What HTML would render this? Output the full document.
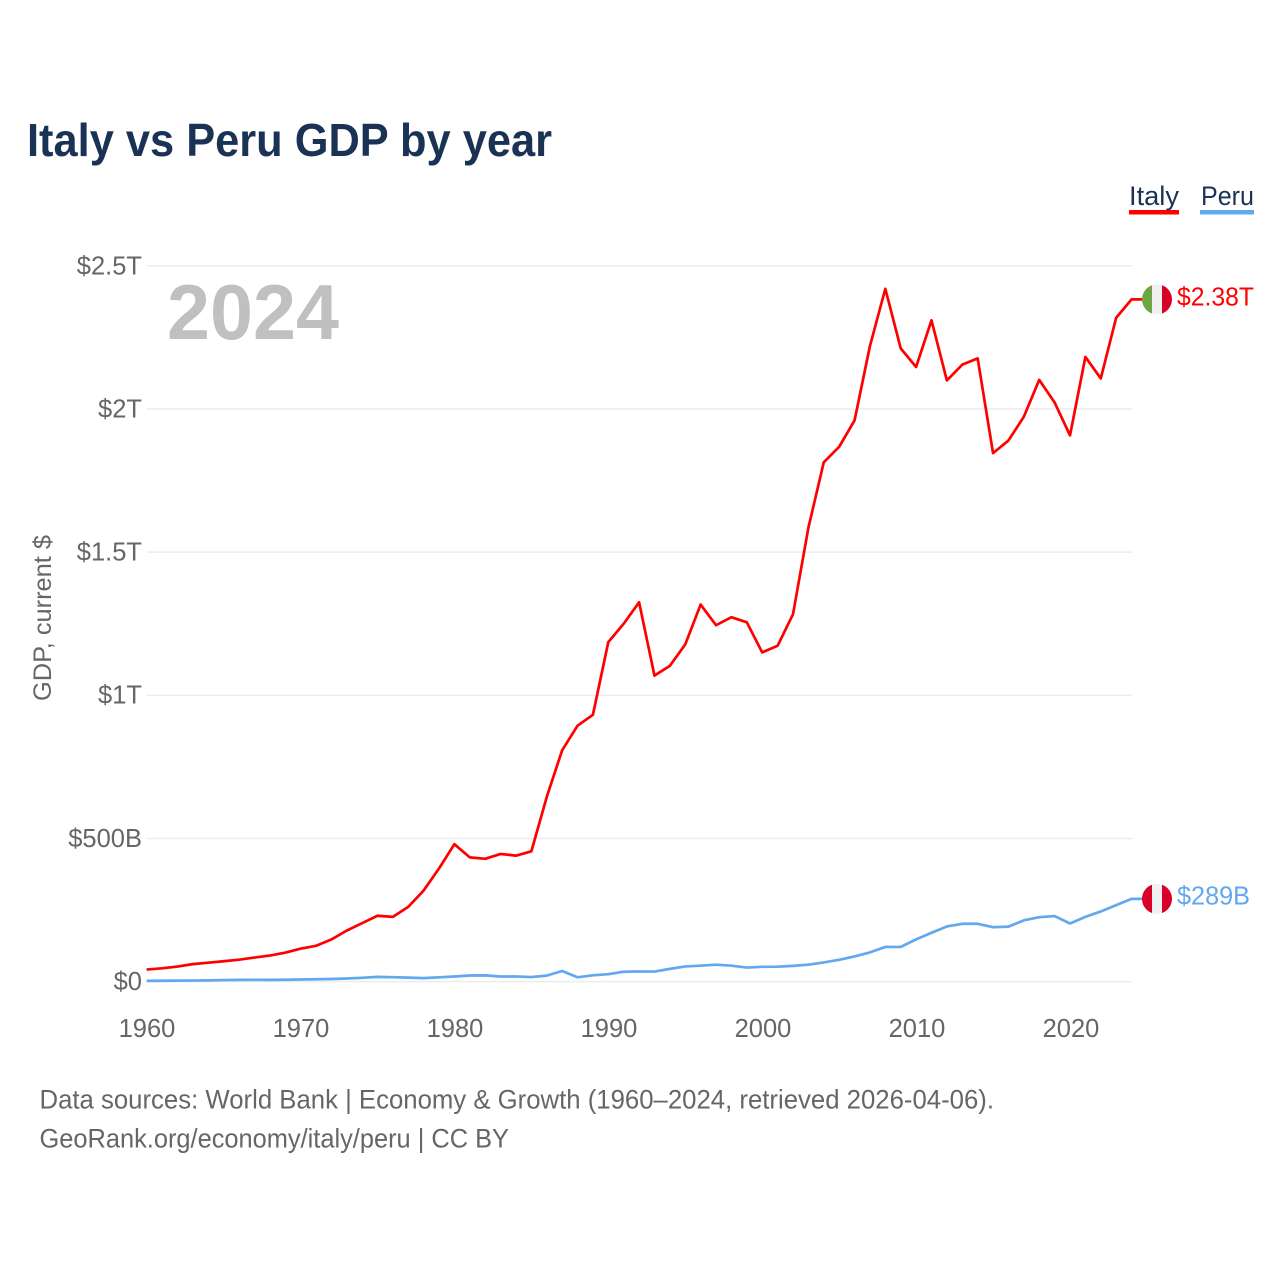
<!DOCTYPE html>
<html lang="en">
<head>
<meta charset="utf-8">
<title>Italy vs Peru GDP by year</title>
<style>
html,body{margin:0;padding:0;background:#fff;}
svg{display:block;font-family:"Liberation Sans",sans-serif;}
</style>
</head>
<body>
<svg id="chart" width="1280" height="1280" viewBox="0 0 1280 1280" xmlns="http://www.w3.org/2000/svg">
  <rect width="1280" height="1280" fill="#ffffff"/>
  <text x="27" y="156" font-size="46" font-weight="700" fill="#1a3355" textLength="525" lengthAdjust="spacingAndGlyphs">Italy vs Peru GDP by year</text>

  <g>
    <g>
      <text x="1129" y="205" font-size="27" fill="#1a3355" textLength="50" lengthAdjust="spacingAndGlyphs">Italy</text>
      <rect x="1129" y="210" width="50" height="4.5" fill="#ff0000"/>
    </g>
    <g>
      <text x="1201" y="205" font-size="27" fill="#1a3355" textLength="53" lengthAdjust="spacingAndGlyphs">Peru</text>
      <rect x="1200" y="210" width="54" height="4.5" fill="#62a8ee"/>
    </g>
  </g>

  <g id="grid"></g>
  <g id="yticks"></g>
  <g id="xticks"></g>

  <text x="167" y="339" font-size="78" font-weight="700" fill="#c0c0c0" textLength="172" lengthAdjust="spacingAndGlyphs">2024</text>
  <text transform="translate(51,701) rotate(-90)" x="0" y="0" font-size="25" fill="#666666" textLength="166" lengthAdjust="spacingAndGlyphs">GDP, current $</text>

  <g id="series"></g>
  <g id="ends"></g>

  <text x="39.5" y="1108.5" font-size="27" fill="#666666" textLength="954.5" lengthAdjust="spacingAndGlyphs">Data sources: World Bank | Economy &amp; Growth (1960–2024, retrieved 2026-04-06).</text>
  <text x="39.5" y="1147.5" font-size="27" fill="#666666" textLength="469.5" lengthAdjust="spacingAndGlyphs">GeoRank.org/economy/italy/peru | CC BY</text>
</svg>
<script>
const startYear = 1960;
const italyValues = [42,46.5,52.5,61,66,71,76.5,84,91,101,115,125,147,178,204,230,226,261,318,395,480,434,429,446,440,455,645,808,894,932,1186,1250,1325,1069,1103,1178,1317,1245,1273,1255,1150,1173,1283,1585,1814,1868,1960,2220,2420,2212,2147,2310,2100,2155,2177,1846,1890,1973,2102,2023,1908,2182,2107,2319,2383];
const peruValues = [2.6,3,3.4,3.7,4.4,5.3,6.1,6.3,5.9,6.5,7.4,8.1,9.2,10.8,13.3,16.4,15.4,14,12,15,17.8,21.3,21.7,17.9,17.7,15.9,20.9,37,15,22,26,34.5,35.5,35,44.5,53,55.5,59,55.5,49,51.7,52,55,59,67,76,88,102,121,121,147.5,170.6,192.6,202,202,190,192,214,225,229,203,226,245,267,289];
const yTickValues = [0,500,1000,1500,2000,2500];
const yTickLabels = ["$0","$500B","$1T","$1.5T","$2T","$2.5T"];
const xTickValues = [1960,1970,1980,1990,2000,2010,2020];
const italyEndLabel = "$2.38T";
const peruEndLabel = "$289B";

const NS = "http://www.w3.org/2000/svg";
const xScale = year => 146.6 + (year - 1960) * 15.39;
const yScale = value => 981.6 - value * 0.28628;

function make(tag, attrs, parent, text) {
  const el = document.createElementNS(NS, tag);
  for (const key in attrs) el.setAttribute(key, attrs[key]);
  if (text !== undefined) el.textContent = text;
  parent.appendChild(el);
  return el;
}

const gridGroup = document.getElementById("grid");
const yGroup = document.getElementById("yticks");
yTickValues.forEach((v, i) => {
  const line = make("line", {x1: 147, x2: 1132, y1: yScale(v), y2: yScale(v), stroke: "#ececec", "stroke-width": 1.5}, gridGroup);
  
  
  const label = make("text", {x: 142, y: yScale(v) + 8.4, "text-anchor": "end", "font-size": 25.5, fill: "#666666"}, yGroup, yTickLabels[i]);
  
  
});

const xGroup = document.getElementById("xticks");
xTickValues.forEach(year => {
  const label = make("text", {x: 147 + (year - 1960) * 15.4, y: 1037, "text-anchor": "middle", "font-size": 25.5, fill: "#666666"}, xGroup, String(year));
  
  
});

const seriesGroup = document.getElementById("series");
const endGroup = document.getElementById("ends");

function pathFor(values) {
  const lastY = yScale(values[values.length - 1]);
  const pts = values.map((v, i) => xScale(startYear + i).toFixed(2) + "," + yScale(v).toFixed(2));
  pts.push("1142," + lastY.toFixed(2));
  return "M" + pts.join("L");
}

const italyLine = make("path", {d: pathFor(italyValues), fill: "none", stroke: "#ff0000", "stroke-width": 2.7, "stroke-linejoin": "round"}, seriesGroup);



const peruLine = make("path", {d: pathFor(peruValues), fill: "none", stroke: "#62a8ee", "stroke-width": 2.7, "stroke-linejoin": "round"}, seriesGroup);



function drawFlag(cy, colors, id) {
  const clip = make("clipPath", {id: id}, endGroup);
  make("circle", {cx: 1157, cy: cy, r: 15}, clip);
  const flag = make("g", {"clip-path": "url(#" + id + ")"}, endGroup);
  colors.forEach((c, i) => {
    make("rect", {x: 1142 + i * 10, y: cy - 15, width: 10.2, height: 30, fill: c}, flag);
  });
  return flag;
}

const italyY = yScale(italyValues[italyValues.length - 1]);
const peruY = yScale(peruValues[peruValues.length - 1]);

const italyFlag = drawFlag(italyY, ["#6da544", "#f0f0f0", "#d80027"], "clip-italy");


const peruFlag = drawFlag(peruY, ["#d80027", "#f0f0f0", "#d80027"], "clip-peru");



const italyValueLabel = make("text", {x: 1177, y: italyY + 6, "font-size": 25.5, fill: "#ff0000", textLength: 77, lengthAdjust: "spacingAndGlyphs"}, endGroup, italyEndLabel);


const peruValueLabel = make("text", {x: 1177, y: peruY + 5.5, "font-size": 25.5, fill: "#62a8ee", textLength: 73, lengthAdjust: "spacingAndGlyphs"}, endGroup, peruEndLabel);


</script>
</body>
</html>
